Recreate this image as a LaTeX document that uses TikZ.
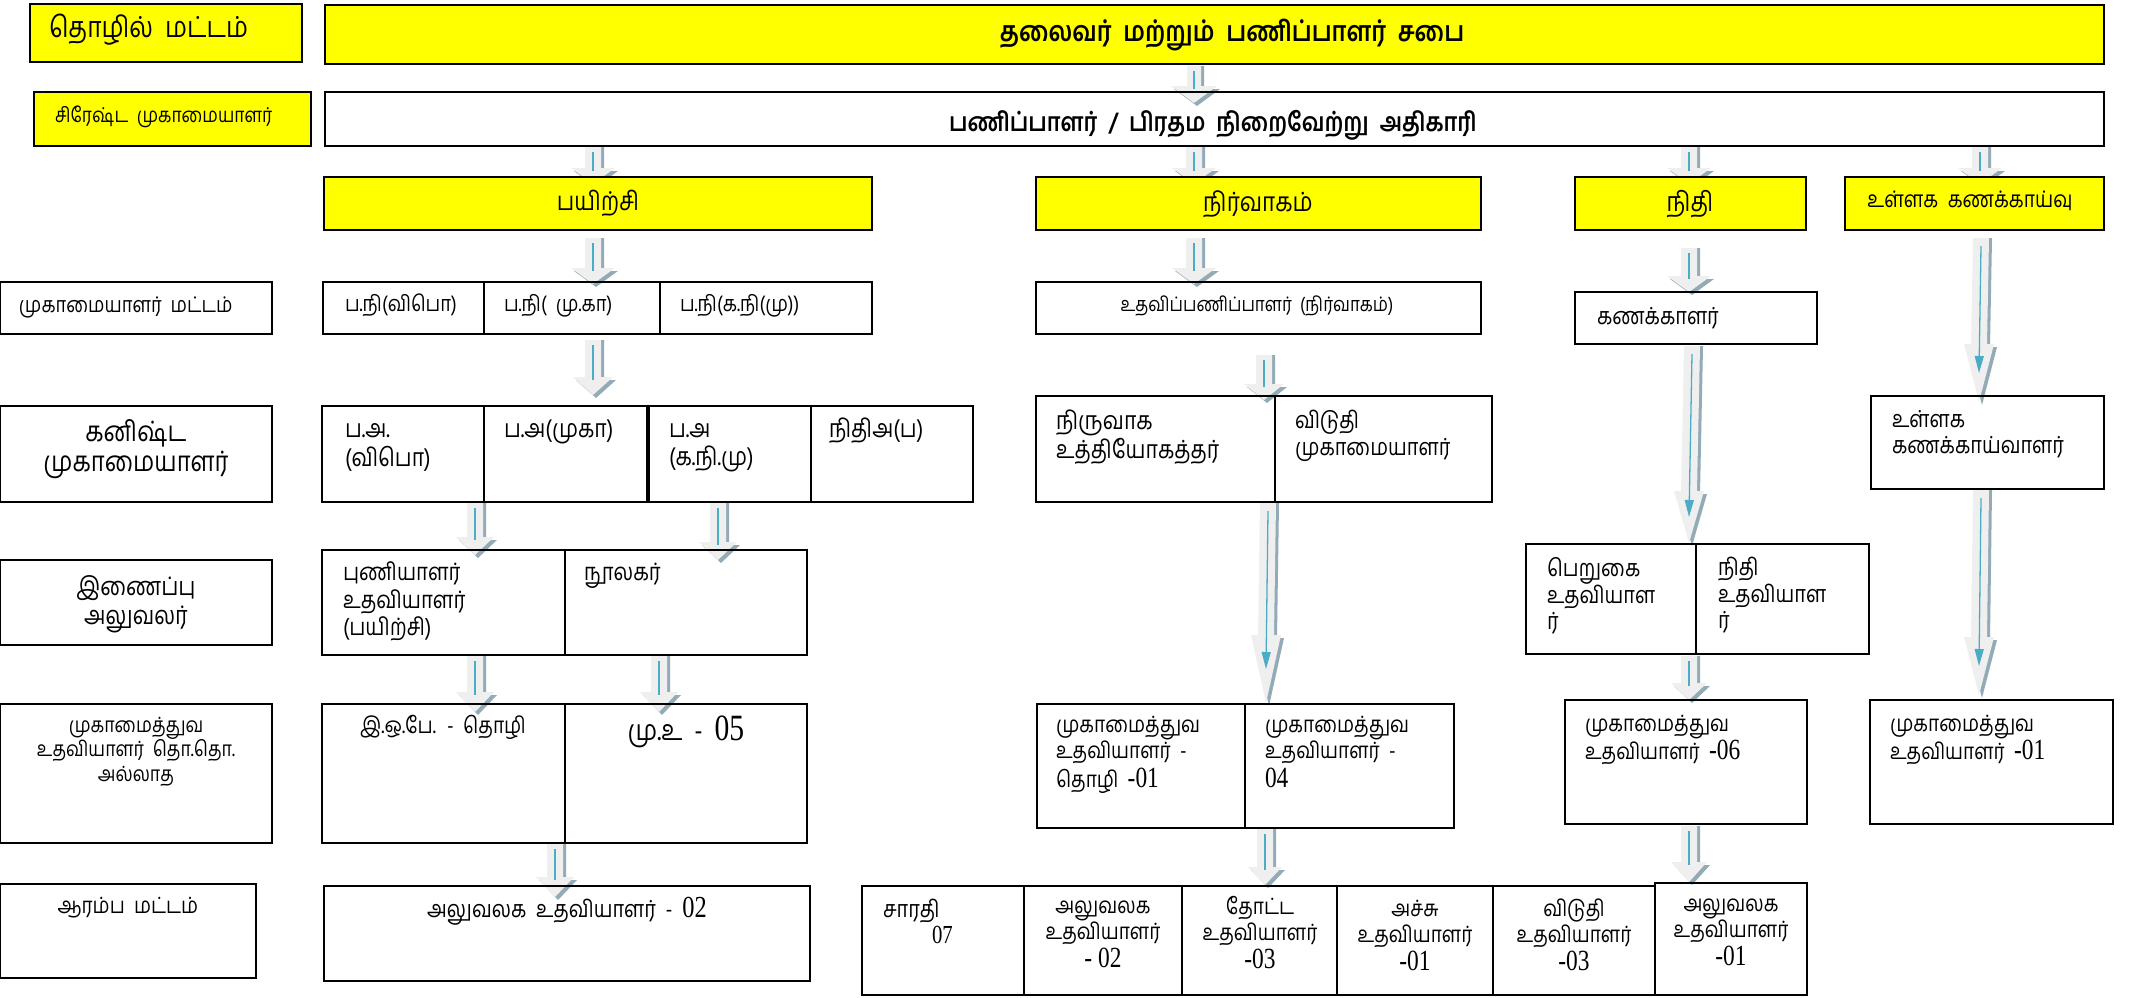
\documentclass[tikz,border=0pt]{standalone}
\usepackage{fontspec}
\newfontfamily\tam[Script=Tamil,WordSpace=2.0,FakeStretch=0.85]{Hind Madurai}
\newfontfamily\lat[FakeStretch=0.8,Scale=1.3]{Liberation Serif}
\usetikzlibrary{calc,arrows.meta}
\pgfdeclarelayer{bg}
\pgfsetlayers{bg,main}
\definecolor{yel}{HTML}{FFFF00}
\definecolor{abody}{HTML}{EFEFEF}
\definecolor{ashad}{HTML}{93ABB6}
\definecolor{ablue}{HTML}{4BACC6}
\newcommand\fs[2]{\tam\fontsize{#1}{#2}\selectfont}
\tikzset{
  box/.style={draw=black,line width=1.6pt,inner sep=0pt,outer sep=0pt,anchor=north west},
  ybox/.style={fill=yel},
  tx/.style={inner sep=0pt,outer sep=0pt,align=left,font=\fs{23.5}{26}},
  txc/.style={tx,align=center},
  ttl/.style={inner sep=0pt,font=\tam\bfseries\fontsize{28}{32}\selectfont},
  bl/.style={ablue,line width=1.3pt},
}
\newcommand\bx[6][]{\node[box,#1,minimum width={#4pt-#2pt},minimum height={#5pt-#3pt}] (#6) at (#2,#3) {};}
\newcommand\arrbody[8]{%
  \coordinate (#1s) at (#2,#3); \coordinate (#1e) at (#4,#5);
  \fill[ashad] ($(#1s)+(-#6+3,0)$) -- ($(#1e)+(-#6+3,-#8+3)$) -- ($(#1e)+(-#7+3,-#8+3)$) -- ($(#1e)+(3,3)$) -- ($(#1e)+(#7+3,-#8+3)$) -- ($(#1e)+(#6+3,-#8+3)$) -- ($(#1s)+(#6+3,0)$) -- cycle;
  \fill[abody] ($(#1s)+(-#6,0)$) -- ($(#1e)+(-#6,-#8)$) -- ($(#1e)+(-#7,-#8)$) -- (#1e) -- ($(#1e)+(#7,-#8)$) -- ($(#1e)+(#6,-#8)$) -- ($(#1s)+(#6,0)$) -- cycle;}
\newcommand\sarr[8]{\arrbody{#1}{#2}{#3}{#4}{#5}{#6}{#7}{#8}%
  \draw[bl] ($(#1s)+(0,5)$) -- ($(#1e)+(0,-#8+3)$);}
\newcommand\larr[8]{\arrbody{#1}{#2}{#3}{#4}{#5}{#6}{#7}{#8}%
  \draw[bl,-{Triangle[width=9pt,length=17pt]}] ($(#1s)+(0,8)$) -- ($(#1e)+(0,-#8*0.5)$);}
\begin{document}
\begin{tikzpicture}[x=1pt,y=-1pt]
\useasboundingbox (0,0) rectangle (2134,997);
% ---------- boxes
\bx[ybox]{30}{4}{302}{62}{L1}
\bx[ybox]{325}{5}{2104}{64}{T1}
\bx[ybox]{34}{92}{311}{146}{L2}
\bx{325}{92}{2104}{146}{T2}
\bx[ybox]{324}{177}{872}{230}{P3}
\bx[ybox]{1036}{177}{1481}{230}{N3}
\bx[ybox]{1575}{177}{1806}{230}{F3}
\bx[ybox]{1845}{177}{2104}{230}{U3}
\bx{0}{282}{272}{334}{L4}
\bx{323}{282}{484}{334}{P4a}
\bx{484}{282}{660}{334}{P4b}
\bx{660}{282}{872}{334}{P4c}
\bx{1036}{282}{1481}{334}{N4}
\bx{1575}{292}{1817}{344}{F4}
\bx{0}{406}{272}{502}{L5}
\bx{322}{406}{484}{502}{P5a}
\bx{484}{406}{647}{502}{P5b}
\bx{649}{406}{811}{502}{P5c}
\bx{811}{406}{973}{502}{P5d}
\bx{1036}{396}{1275}{502}{N5a}
\bx{1275}{396}{1492}{502}{N5b}
\bx{1871}{396}{2104}{489}{U5}
\bx{0}{560}{272}{645}{L6}
\bx{322}{550}{565}{655}{P6a}
\bx{565}{550}{807}{655}{P6b}
\bx{1526}{544}{1696}{654}{F6a}
\bx{1696}{544}{1869}{654}{F6b}
\bx{0}{704}{272}{843}{L7}
\bx{322}{704}{565}{843}{P7a}
\bx{565}{704}{807}{843}{P7b}
\bx{1037}{704}{1245}{828}{N7a}
\bx{1245}{704}{1454}{828}{N7b}
\bx{1565}{700}{1807}{824}{F7}
\bx{1870}{700}{2113}{824}{U7}
\bx{0}{884}{256}{978}{L8}
\bx{324}{886}{810}{981}{P8}
\bx{862}{886}{1024}{995}{R1}
\bx{1024}{886}{1182}{995}{R2}
\bx{1182}{886}{1337}{995}{R3}
\bx{1337}{886}{1493}{995}{R4}
\bx{1493}{886}{1655}{995}{R5}
\bx{1655}{883}{1807}{995}{R6}
% ---------- texts
\node[tx,anchor=west,font=\fs{29}{32}] (tL1) at (49,31) {\strut தொழில் மட்டம்};
\node[ttl] (tT1) at (1232,35) {\strut தலைவர் மற்றும் பணிப்பாளர் சபை};
\node[tx,anchor=west,font=\fs{20.5}{24}] (tL2) at (55,118) {\strut சிரேஷ்ட முகாமையாளர்};
\node[ttl,font=\tam\bfseries\fontsize{26}{30}\selectfont] (tT2) at (1213,125) {\strut பணிப்பாளர் / பிரதம நிறைவேற்று அதிகாரி};
\node[tx,font=\fs{26}{28}] (tP3) at (598,205) {\strut பயிற்சி};
\node[tx,font=\fs{26.5}{28}] (tN3) at (1258,205) {\strut நிர்வாகம்};
\node[tx,font=\fs{27}{28}] (tF3) at (1690,205) {\strut நிதி};
\node[tx,font=\fs{22.8}{26}] (tU3) at (1970,202) {\strut உள்ளக கணக்காய்வு};
\node[tx,anchor=west,font=\fs{21.6}{26}] (tL4) at (19,307) {\strut முகாமையாளர் மட்டம்};
\node[tx,anchor=west,font=\fs{21.8}{26}] (tP4a) at (345,306) {\strut ப.நி(விபொ)};
\node[tx,anchor=west,font=\fs{21.8}{26}] (tP4b) at (504,306) {\strut ப.நி( மு.கா)};
\node[tx,anchor=west,font=\fs{21.8}{26}] (tP4c) at (680,306) {\strut ப.நி(க.நி(மு))};
\node[tx,font=\fs{20}{26}] (tN4) at (1257,306) {\strut உதவிப்பணிப்பாளர் (நிர்வாகம்)};
\node[tx,anchor=west] (tF4) at (1597,319) {\strut கணக்காளர்};
\node[txc,anchor=north,font=\fs{28}{28}] (tL5) at (136,420) {\strut கனிஷ்ட\\முகாமையாளர்};
\node[tx,anchor=north west,font=\fs{25}{26}] (tP5a) at (345,419) {\strut ப.அ.\\(விபொ)};
\node[tx,anchor=west,font=\fs{25}{26}] (tP5b) at (504,432) {\strut ப.அ(முகா)};
\node[tx,anchor=north west,font=\fs{25}{26}] (tP5c) at (669,419) {\strut ப.அ\\(க.நி.மு)};
\node[tx,anchor=west,font=\fs{25}{26}] (tP5d) at (829,432) {\strut நிதிஅ(ப)};
\node[tx,anchor=north west,font=\fs{25}{27}] (tN5a) at (1056,410) {\strut நிருவாக\\உத்தியோகத்தர்};
\node[tx,anchor=north west,font=\fs{23.5}{27}] (tN5b) at (1295,410) {\strut விடுதி\\முகாமையாளர்};
\node[tx,anchor=north west,font=\fs{23.5}{26}] (tU5) at (1892,409) {\strut உள்ளக\\கணக்காய்வாளர்};
\node[txc,anchor=north,font=\fs{25.5}{29}] (tL6) at (136,575) {\strut இணைப்பு\\அலுவலர்};
\node[tx,anchor=north west,font=\fs{24}{26.5}] (tP6a) at (343,562) {\strut புணியாளர்\\உதவியாளர்\\(பயிற்சி)};
\node[tx,anchor=north west,font=\fs{24}{26.5}] (tP6b) at (584,562) {\strut நூலகர்};
\node[tx,anchor=north west] (tF6a) at (1547,557) {\strut பெறுகை\\உதவியாள\\ர்};
\node[tx,anchor=north west] (tF6b) at (1718,557) {\strut நிதி\\உதவியாள\\ர்};
\node[txc,anchor=north,font=\fs{21}{24.5}] (tL7) at (136,715) {\strut முகாமைத்துவ\\உதவியாளர் தொ.தொ.\\அல்லாத};
\node[tx,anchor=north,font=\fs{22.6}{26}] (tP7a) at (443,715) {\strut இ.ஒ.பே. - தொழி};
\node[tx,anchor=north,font=\fs{28.5}{29}] (tP7b) at (686,716) {\strut மு.உ - {\lat 05}};
\node[tx,anchor=north west,font=\fs{22.5}{25.5}] (tN7a) at (1056,715) {\strut முகாமைத்துவ\\உதவியாளர் -\\[4pt]தொழி {\lat -01}};
\node[tx,anchor=north west,font=\fs{22.5}{25.5}] (tN7b) at (1265,715) {\strut முகாமைத்துவ\\உதவியாளர் -\\[4pt]{\lat 04}};
\node[tx,anchor=north west,font=\fs{22.5}{25}] (tF7) at (1585,714) {\strut முகாமைத்துவ\\உதவியாளர் {\lat -06}};
\node[tx,anchor=north west,font=\fs{22.5}{25}] (tU7) at (1890,714) {\strut முகாமைத்துவ\\உதவியாளர் {\lat -01}};
\node[tx,font=\fs{22.4}{26}] (tL8) at (128,908) {\strut ஆரம்ப மட்டம்};
\node[tx,anchor=north] (tP8) at (567,897) {\strut அலுவலக உதவியாளர் - {\lat 02}};
\node[tx,anchor=north west] (tR1) at (883,899) {\strut சாரதி\\\hspace*{49pt}{\lat\fontsize{20}{26}\selectfont 07}};
\node[txc,anchor=north,font=\fs{22.5}{24.5}] (tR2) at (1103,896) {\strut அலுவலக\\உதவியாளர்\\[3pt]{\lat - 02}};
\node[txc,anchor=north,font=\fs{22.5}{24.5}] (tR3) at (1260,896) {\strut தோட்ட\\உதவியாளர்\\[3pt]{\lat -03}};
\node[txc,anchor=north,font=\fs{22.5}{25}] (tR4) at (1415,899) {\strut அச்சு\\உதவியாளர்\\[3pt]{\lat -01}};
\node[txc,anchor=north,font=\fs{22.5}{25}] (tR5) at (1574,899) {\strut விடுதி\\உதவியாளர்\\[3pt]{\lat -03}};
\node[txc,anchor=north,font=\fs{22.5}{24.5}] (tR6) at (1731,894) {\strut அலுவலக\\உதவியாளர்\\[3pt]{\lat -01}};
% ---------- arrows
\begin{pgfonlayer}{bg}
\sarr{a1}{1194}{66}{1194}{103}{7}{23}{17}
\sarr{a2}{593}{147}{593}{184}{8}{22}{16}
\sarr{a3}{1194}{147}{1194}{184}{8}{22}{16}
\sarr{a4}{1689}{147}{1689}{184}{8}{22}{16}
\sarr{a5}{1980}{147}{1980}{184}{8}{22}{16}
\sarr{a6}{593}{238}{593}{284}{8}{22}{16}
\sarr{a7}{1194}{238}{1194}{284}{8}{22}{16}
\sarr{a8}{1689}{248}{1689}{292}{8}{22}{16}
\larr{a9}{1981}{238}{1979}{402}{8}{15}{58}
\sarr{a10}{593}{340}{593}{395}{8}{20}{18}
\sarr{a11}{1264}{355}{1264}{400}{8}{20}{16}
\larr{a12}{1692}{346}{1689}{543}{8}{15}{52}
\larr{a13}{1981}{490}{1979}{695}{8}{15}{58}
\larr{a14}{1268}{503}{1266}{703}{8}{15}{68}
\sarr{a15}{475}{503}{475}{555}{8}{19}{18}
\sarr{a16}{718}{503}{718}{560}{8}{19}{18}
\sarr{a17}{475}{656}{475}{712}{8}{19}{20}
\sarr{a18}{659}{656}{659}{712}{8}{19}{20}
\sarr{a19}{555}{844}{555}{897}{8}{19}{20}
\sarr{a20}{1689}{656}{1689}{700}{8}{18}{17}
\sarr{a21}{1265}{829}{1265}{885}{8}{17}{18}
\sarr{a22}{1689}{826}{1689}{882}{8}{18}{20}
\end{pgfonlayer}
\end{tikzpicture}
\end{document}
